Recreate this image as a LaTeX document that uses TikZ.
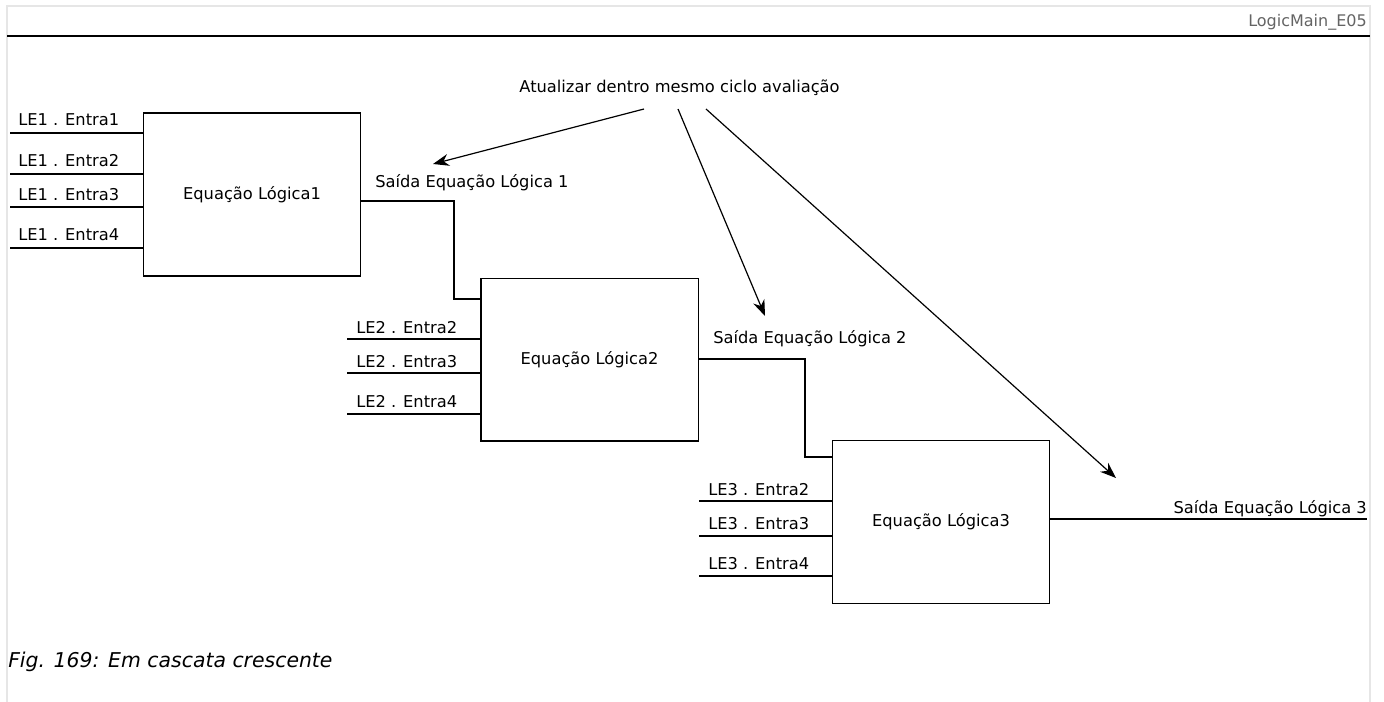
\documentclass[tikz,border=0pt]{standalone}
\usepackage{fontspec}
\setmainfont{DejaVu Sans}
\usepackage{tikz}
\usetikzlibrary{arrows.meta,positioning,calc}
\definecolor{lmframe}{RGB}{230,230,230}
\definecolor{lmhead}{RGB}{100,100,100}
\tikzset{
  eqbox/.style={draw, line width=1pt, minimum width=163pt, minimum height=122pt, inner sep=0pt, font=\fontsize{12.2}{14}\selectfont},
  wire/.style={line width=1pt},
  lbl/.style={anchor=base west, inner sep=0pt, font=\fontsize{12.2}{14}\selectfont},
  lblr/.style={anchor=base east, inner sep=0pt, font=\fontsize{12.2}{14}\selectfont},
  upd/.style={-{Stealth[length=12pt,width=9pt]}, line width=0.9pt}
}
\begin{document}
\begin{tikzpicture}[x=0.75pt,y=-0.75pt]
  \useasboundingbox (0,0) rectangle (1384,702);
  % page frame and header
  \draw[lmframe, line width=1.5pt] (7,702) -- (7,6) -- (1370,6) -- (1370,702);
  \draw[line width=1.6pt] (7,36) -- (1370,36);
  \node[lblr, text=lmhead, font=\fontsize{12}{14}\selectfont] (hdr) at (1367,27) {LogicMain\_E05};

  % logic equation blocks
  \node[eqbox] (b1) at (252,194.5) {Equação Lógica1};
  \node[eqbox] (b2) at (589.5,359.5) {Equação Lógica2};
  \node[eqbox] (b3) at (941,522) {Equação Lógica3};

  % inputs LE1
  \foreach \y/\t/\n in {133/126/1, 174/167/2, 207/201/3, 248/241/4} {
    \coordinate (in1\n) at (10,\y);
    \draw[wire] (in1\n) -- (in1\n -| b1.west);
    \node[lbl] (l1\n) at (18,\t) {LE1 . Entra\n};
  }
  % inputs LE2
  \foreach \y/\t/\n in {339/333/2, 373/367/3, 414/407/4} {
    \coordinate (in2\n) at (347,\y);
    \draw[wire] (in2\n) -- (in2\n -| b2.west);
    \node[lbl] (l2\n) at (356,\t) {LE2 . Entra\n};
  }
  % inputs LE3
  \foreach \y/\t/\n in {501/495/2, 536/529/3, 576/569/4} {
    \coordinate (in3\n) at (699,\y);
    \draw[wire] (in3\n) -- (in3\n -| b3.west);
    \node[lbl] (l3\n) at (708,\t) {LE3 . Entra\n};
  }

  % cascade connections
  \coordinate (o1) at (454,201);
  \coordinate (i2) at (454,299);
  \draw[wire] (b1.east |- o1) -- (o1) -- (i2) -- (b2.west |- i2);
  \node[lbl] (s1) at (375,188) {Saída Equação Lógica 1};

  \coordinate (o2) at (805,359);
  \coordinate (i3) at (805,457);
  \draw[wire] (b2.east |- o2) -- (o2) -- (i3) -- (b3.west |- i3);
  \node[lbl] (s2) at (713,343) {Saída Equação Lógica 2};

  \coordinate (o3) at (1367,519);
  \draw[wire] (b3.east |- o3) -- (o3);
  \node[lblr] (s3) at (1367,513) {Saída Equação Lógica 3};

  % update note
  \node[lbl, anchor=base] (note) at (679.5,93) {Atualizar dentro mesmo ciclo avaliação};
  \coordinate (a1) at (644,109);
  \coordinate (a2) at (678,109);
  \coordinate (a3) at (706,109);
  \coordinate (t1) at (433,164);
  \coordinate (t2) at (765,316);
  \coordinate (t3) at (1116,478);
  \draw[upd] (a1) -- (t1);
  \draw[upd] (a2) -- (t2);
  \draw[upd] (a3) -- (t3);

  % caption
  \node[lbl, font=\fontsize{15.3}{18}\selectfont\itshape] (cap) at (8,667) {Fig. 169: Em cascata crescente};
\end{tikzpicture}
\end{document}
